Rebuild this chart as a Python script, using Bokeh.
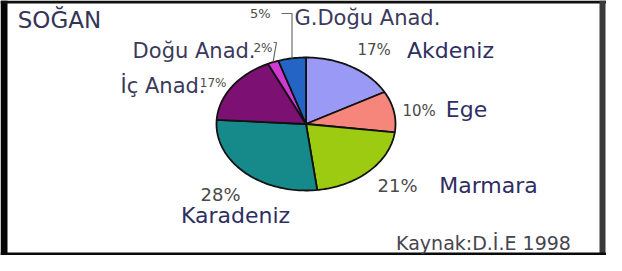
import numpy as np
from bokeh.plotting import figure
from bokeh.models import Range1d
from bokeh.core.properties import value
from bokeh.embed import file_html
from bokeh.resources import INLINE

# ---- data ----
title = "SOĞAN"
source_note = "Kaynak:D.İ.E 1998"
regions = ["Akdeniz", "Ege", "Marmara", "Karadeniz", "İç Anad.", "Doğu Anad.", "G.Doğu Anad."]
shares = [17, 10, 21, 28, 17, 2, 5]
colors = ["#9a9af6", "#f6857c", "#9dcb12", "#16898b", "#7c1173", "#d03ad0", "#2464c4"]

# ---- layout (page pixel coordinates) ----
W, H = 606, 255
M = 8
FONT = value("DejaVu Sans")
p = figure(width=W, height=H, output_backend="svg", toolbar_location=None,
           x_range=Range1d(M, M + W), y_range=Range1d(M + H, M), min_border=0,
           x_axis_location=None, y_axis_location=None)
p.grid.visible = False
p.outline_line_color = None
p.background_fill_color = "white"
p.border_fill_color = "white"

# frame bands
p.quad(left=[M, M, 607, M], right=[15, M + W, 613, M + W],
       top=[M, M, M, 260], bottom=[M + H, 11, M + H, M + H],
       fill_color=["#050505", "#101010", "#3a3a3a", "#0a0a0a"], line_color=None)

# ---- pie (elliptical) ----
cx, cy, rx, ry = 313.5, 131.5, 89.5, 66.5
frac = np.array(shares, dtype=float) / sum(shares)
ends = np.cumsum(frac) * 2 * np.pi
starts = ends - frac * 2 * np.pi
xs, ys = [], []
for a0, a1 in zip(starts, ends):
    t = np.linspace(a0, a1, max(4, int(240 * (a1 - a0) / (2 * np.pi)) + 2))
    xs.append([cx] + list(cx + rx * np.sin(t)) + [cx])
    ys.append([cy] + list(cy - ry * np.cos(t)) + [cy])
p.patches(xs, ys, fill_color=colors, line_color="#111111", line_width=1.8)

# ---- leader lines for the two small slices ----
mid = (starts + ends) / 2
lead_x = cx + rx * np.sin(mid)
lead_y = cy - ry * np.cos(mid)
i_dogu, i_gd = 5, 6
p.multi_line(xs=[[281, 284, lead_x[i_dogu]], [289, lead_x[i_gd], lead_x[i_gd]]],
             ys=[[50, 50, lead_y[i_dogu]], [21, 21, lead_y[i_gd]]],
             line_color="#6a6a6a", line_width=1.2)

pct = [f"{s}%" for s in shares]
NAVY = "#2e2e62"
GRAY = "#4a4a4a"

def txt(x, y, s, size, color, align="left"):
    p.text(x=[x], y=[y], text=[s], text_font=FONT, text_font_size=f"{size}px",
           text_color=color, text_align=align, text_baseline="alphabetic")

# title and source
txt(67, 27, title, 23, "#343456", "center")
txt(491, 250, source_note, 19, "#45454f", "center")

# region names
txt(458, 58, regions[0], 22, NAVY, "center")
txt(474, 117, regions[1], 22, NAVY, "center")
txt(496, 193, regions[2], 22, NAVY, "center")
txt(243, 223, regions[3], 22, NAVY, "center")
txt(213, 93, regions[4], 21, "#3a3a5c", "right")
txt(263, 58, regions[5], 21, "#3a3a5c", "right")
txt(302, 25, regions[6], 21, "#3a3a5c", "left")

# percentages
txt(365, 57, pct[0], 15, GRAY, "left")
txt(410, 118, pct[1], 15, GRAY, "left")
txt(385, 193, pct[2], 18, GRAY, "left")
txt(228, 202, pct[3], 18, GRAY, "center")
txt(234, 90, pct[4], 12, GRAY, "right")
txt(280, 55, pct[5], 12, GRAY, "right")
txt(278, 21, pct[6], 13, GRAY, "right")

open("out.html", "w").write(file_html(p, INLINE))
